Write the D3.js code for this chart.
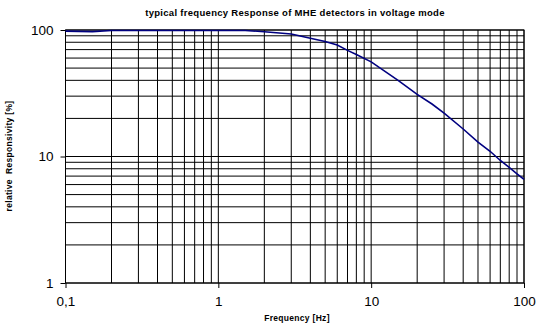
<!DOCTYPE html>
<html>
<head>
<meta charset="utf-8">
<script src="https://cdn.jsdelivr.net/npm/d3@7"></script>
<style>
  body { margin: 0; background: #fff; }
  svg { display: block; font-family: "Liberation Sans", Arial, sans-serif; }
</style>
</head>
<body>
<svg width="537" height="326"></svg>
<script>
// data
const freq = [0.1, 0.15, 0.2, 0.3, 0.4, 0.5, 0.7, 1, 1.5, 2, 3, 4, 5, 6, 7, 8, 10, 15, 20, 25, 30, 40, 50, 60, 70, 80, 90, 100]
const resp = [98, 97, 99, 99, 99, 99, 99, 99, 99, 97, 93, 86, 81, 76, 69, 64, 56, 40, 31, 26, 22, 16.5, 13, 11, 9.3, 8.2, 7.3, 6.6]
const xTicks = [0.1, 1, 10, 100]
const xTickLabels = ['0,1', '1', '10', '100']
const yTicks = [1, 10, 100]
const yTickLabels = ['1', '10', '100']

const svg = d3.select('svg')
const plot = {left: 65.5, right: 524, top: 30, bottom: 283}

const x = d3.scaleLog().domain([0.1, 100]).range([plot.left, plot.right])
const y = d3.scaleLog().domain([1, 100]).range([plot.bottom, plot.top])

// grid values: 1..9 in each decade
const gridVals = (decades, last) => {
  const out = []
  decades.forEach(d => { for (let k = 1; k < 10; k++) out.push(d * k) })
  out.push(last)
  return out
}
const xGrid = gridVals([0.1, 1, 10], 100)
const yGrid = gridVals([1, 10], 100)

const grid = svg.append('g')
grid.selectAll('.vx').data(xGrid).enter().append('line')
  .attr('x1', d => x(d)).attr('x2', d => x(d))
  .attr('y1', plot.top).attr('y2', plot.bottom)
  .attr('stroke', '#000').attr('stroke-width', 1)
grid.selectAll('.hy').data(yGrid).enter().append('line')
  .attr('y1', d => y(d)).attr('y2', d => y(d))
  .attr('x1', plot.left).attr('x2', plot.right)
  .attr('stroke', '#000').attr('stroke-width', 1)

// axes
const xAxis = d3.axisBottom(x).tickValues(xTicks).tickSize(5)
  .tickFormat((d, i) => xTickLabels[i])
const yAxis = d3.axisLeft(y).tickValues(yTicks).tickSize(5)
  .tickFormat((d, i) => yTickLabels[i])

const xg = svg.append('g').attr('transform', `translate(0,${plot.bottom})`).call(xAxis)
const yg = svg.append('g').attr('transform', `translate(${plot.left},0)`).call(yAxis)
;[xg, yg].forEach(g => {
  g.select('.domain').remove()
  g.selectAll('line').attr('stroke', '#000')
  g.selectAll('text').attr('font-size', 13.5).attr('fill', '#000')
    .attr('font-family', '"Liberation Sans", Arial, sans-serif')
})
xg.selectAll('text').attr('y', 13)
yg.selectAll('text').attr('x', -12)

// frame
svg.append('rect')
  .attr('x', plot.left).attr('y', plot.top)
  .attr('width', plot.right - plot.left).attr('height', plot.bottom - plot.top)
  .attr('fill', 'none').attr('stroke', '#000')

// curve
const line = d3.line().x((d, i) => x(freq[i])).y(d => y(d))
svg.append('path').datum(resp)
  .attr('d', line)
  .attr('fill', 'none')
  .attr('stroke', '#000080')
  .attr('stroke-width', 1.6)

// titles
svg.append('text').attr('x', 295).attr('y', 16)
  .attr('text-anchor', 'middle').attr('font-size', 9.5).attr('font-weight', 'bold')
  .attr('letter-spacing', 0.3)
  .text('typical frequency Response of MHE detectors in voltage mode')
svg.append('text').attr('x', 297).attr('y', 321)
  .attr('text-anchor', 'middle').attr('font-size', 8.5).attr('font-weight', 'bold')
  .attr('letter-spacing', 0.3)
  .text('Frequency [Hz]')
svg.append('text')
  .attr('transform', 'translate(12,156) rotate(-90)')
  .attr('text-anchor', 'middle').attr('font-size', 8.5).attr('font-weight', 'bold')
  .attr('letter-spacing', 0.3)
  .attr('xml:space', 'preserve')
  .text('relative  Responsivity [%]')
</script>
</body>
</html>
